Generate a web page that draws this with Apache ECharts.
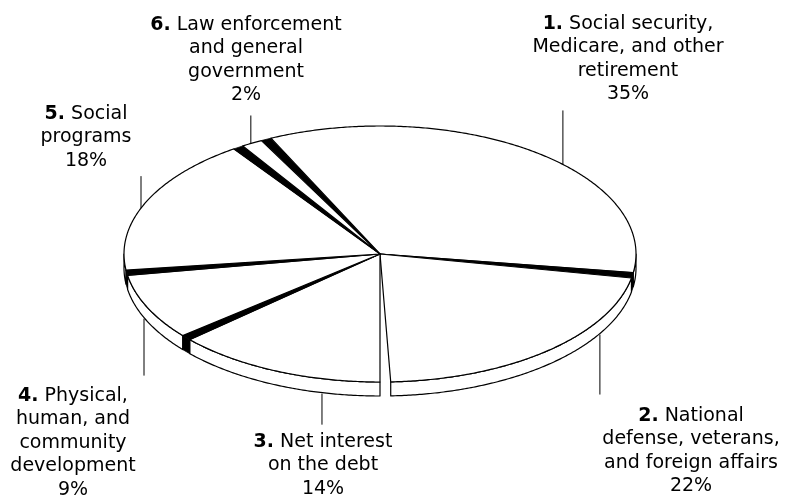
<!DOCTYPE html>
<html><head><meta charset="utf-8">
<script src="https://cdn.jsdelivr.net/npm/echarts@6/dist/echarts.min.js"></script>
<style>html,body{margin:0;padding:0;background:#fff}#c{width:785px;height:497px}</style>
</head><body><div id="c"></div>
<script>
// ---- data ----
const categories = [
  "Social security,\nMedicare, and other\nretirement",
  "National\ndefense, veterans,\nand foreign affairs",
  "Net interest\non the debt",
  "Physical,\nhuman, and\ncommunity\ndevelopment",
  "Social\nprograms",
  "Law enforcement\nand general\ngovernment"
];
const values = [35, 22, 14, 9, 18, 2];

// ---- layout (positions / styles) ----
const CX = 380, CY = 254, RX = 256, RY = 128, DEPTH = 14;
const START = 333.6, HALF_GAP = 1.2;
const FONT = 'DejaVu Sans', FS = 19, LH = 23.5;
// label block: centre x, top y; leader: anchor angle (deg clockwise from 12 o'clock), length
const labelLayout = [
  {x: 628, y: 12,  anchor: 45.6,  len: 54},
  {x: 691, y: 404, anchor: 120.8, len: 60},
  {x: 323, y: 430, anchor: 193.1, len: 31},
  {x: 73,  y: 384, anchor: 247.2, len: 57},
  {x: 86,  y: 102, anchor: 291,   len: 32},
  {x: 246, y: 13,  anchor: 329.7, len: 28}
];

function pt(deg, dy) {
  const a = (deg - 90) * Math.PI / 180;
  return [CX + RX * Math.cos(a), CY + RY * Math.sin(a) + (dy || 0)];
}
function arc(s, e, dy) {
  const n = Math.max(2, Math.ceil((e - s) / 0.5));
  const out = [];
  for (let k = 0; k <= n; k++) out.push(pt(s + (e - s) * k / n, dy));
  return out;
}
function isFront(deg) {
  const d = ((deg % 360) + 360) % 360;
  return d > 90 && d < 270;
}

const total = values.reduce((a, b) => a + b, 0);

function renderItem(params, api) {
  const i = params.dataIndex;
  const v = api.value(0);
  let cum = 0;
  for (let k = 0; k < i; k++) cum += values[k];
  const b0 = START + cum / total * 360;
  const b1 = START + (cum + v) / total * 360;
  const a0 = b0 + HALF_GAP, a1 = b1 - HALF_GAP;
  const C = [CX, CY];
  const children = [];
  const lineStyle = {stroke: '#000', lineWidth: 1.2, fill: '#fff', lineJoin: 'round'};

  // rim (front side) pieces
  for (let k = -1; k <= 2; k++) {
    const s = Math.max(a0, 90 + 360 * k), e = Math.min(a1, 270 + 360 * k);
    if (e > s) {
      const pts = arc(s, e, 0).concat(arc(s, e, DEPTH).reverse());
      children.push({type: 'polygon', shape: {points: pts}, style: Object.assign({}, lineStyle)});
    }
  }
  // dark cut face at start boundary
  const bn = ((b0 % 360) + 360) % 360;
  if (Math.abs(bn - 180) > 5) {
    children.push({type: 'polygon', shape: {points: [C, pt(b0 - HALF_GAP), pt(b0 + HALF_GAP)]},
      style: {fill: '#000', stroke: '#000', lineWidth: 0.8}});
    if (isFront(b0)) {
      children.push({type: 'polygon', shape: {points: [pt(b0 - HALF_GAP), pt(b0 + HALF_GAP), pt(b0 + HALF_GAP, DEPTH), pt(b0 - HALF_GAP, DEPTH)]},
        style: {fill: '#000', stroke: '#000', lineWidth: 0.8}});
    }
  }
  // top face
  children.push({type: 'polygon', shape: {points: [C].concat(arc(a0, a1, 0))}, style: Object.assign({}, lineStyle)});

  // leader line
  const L = labelLayout[i];
  const front = isFront(L.anchor);
  const p = pt(L.anchor, front ? DEPTH + 1 : 0);
  children.push({type: 'line', shape: {x1: p[0], y1: p[1], x2: p[0], y2: front ? p[1] + L.len : p[1] - L.len},
    style: {stroke: '#000', lineWidth: 1}});
  // label
  const txt = '{b|' + (i + 1) + '.} ' + categories[i] + '\n' + v + '%';
  children.push({type: 'text', style: {
    text: txt, x: L.x, y: L.y, align: 'center', verticalAlign: 'top', textAlign: 'center', textVerticalAlign: 'top',
    fontFamily: FONT, fontSize: FS, lineHeight: LH, fill: '#000',
    rich: {b: {fontWeight: 'bold', fontFamily: FONT, fontSize: FS, lineHeight: LH, fill: '#000'}}
  }});
  return {type: 'group', children: children};
}

const chart = echarts.init(document.getElementById('c'), null, {renderer: 'canvas'});
chart.setOption({
  animation: false,
  series: [{
    type: 'custom',
    coordinateSystem: 'none',
    renderItem: renderItem,
    data: values.map((v, i) => ({value: v, name: categories[i]}))
  }]
});
</script></body></html>
